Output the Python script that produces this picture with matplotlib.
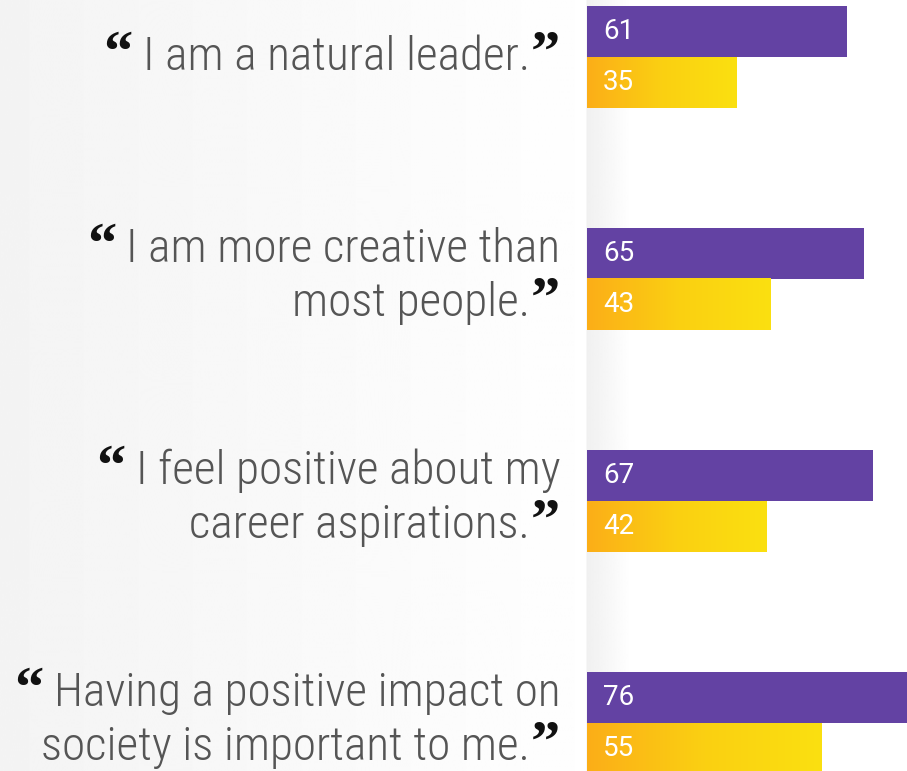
import numpy as np
import matplotlib.pyplot as plt
from matplotlib import font_manager
from matplotlib.colors import LinearSegmentedColormap

statements = [
    ["I am a natural leader."],
    ["I am more creative than", "most people."],
    ["I feel positive about my", "career aspirations."],
    ["Having a positive impact on", "society is important to me."],
]
purple_vals = [61, 65, 67, 76]
yellow_vals = [35, 43, 42, 55]

names = {f.name for f in font_manager.fontManager.ttflist}
font = next(f for f in ["Roboto Condensed", "Liberation Sans Narrow", "Roboto", "DejaVu Sans"] if f in names)
num_font = "Roboto" if "Roboto" in names else font

W, H = 907, 771
fig = plt.figure(figsize=(W / 100, H / 100), dpi=100)

# background: soft gray panel on the left, white panel on the right with a shadow
bg = fig.add_axes([0, 0, 1, 1])
bg.set_axis_off()
xs = np.linspace(0, 1, 900)
edge = 587 / W
shade = np.where(xs < edge, 0.955 + 0.042 * xs / edge,
                 1 - 0.06 * np.clip(1 - (xs - edge) / (45 / W), 0, 1))
bg.imshow(np.tile(shade, (2, 1)), cmap="gray", vmin=0, vmax=1, aspect="auto",
          extent=[0, 1, 0, 1], interpolation="bilinear")
bg.set_xlim(0, 1)
bg.set_ylim(0, 1)

# bar axes
ax = fig.add_axes([edge, 0, 1 - edge, 1])
ax.set_axis_off()
top = -57 / 222
bottom = (H - 57) / 222
bh = 51 / 222

yellow_cmap = LinearSegmentedColormap.from_list("y", ["#fcae18", "#fad012", "#fbe010"])
grad = np.linspace(0, 1, 256).reshape(1, -1)

for i in range(len(statements)):
    ax.barh(i - bh / 2, purple_vals[i], height=bh, color="#6342a3", linewidth=0)
    ax.imshow(grad, cmap=yellow_cmap, aspect="auto", interpolation="bilinear",
              extent=[0, yellow_vals[i], i + bh, i], zorder=2)
    ax.text(3.7, i - bh / 2, str(purple_vals[i]), color="white", fontsize=20,
            family=num_font, va="center", ha="left", zorder=3)
    ax.text(3.7, i + bh / 2, str(yellow_vals[i]), color="white", fontsize=20,
            family=num_font, va="center", ha="left", zorder=3)
ax.set_xlim(0, 75)
ax.set_ylim(bottom, top)

# statement labels with bold quote marks
fig.canvas.draw()
renderer = fig.canvas.get_renderer()
right = 560
qfont = dict(fontsize=42, color="#111111", fontweight="bold", family="Liberation Serif")
for i, lines in enumerate(statements):
    n = len(lines)
    yc = 57 + 222 * i
    if n == 1:
        bases = [yc + 13]
    else:
        bases = [yc - 17, yc + 37]
    cq = fig.text(right / W, 1 - (bases[-1] - 40) / H, "\u201d", ha="right", va="top", **qfont)
    cqw = cq.get_window_extent(renderer).width
    for k, line in enumerate(lines):
        xr = right - (cqw + 1 if k == n - 1 else 0)
        t = fig.text(xr / W, 1 - bases[k] / H, line, fontsize=34, color="#555555",
                     family=font, fontweight="light", ha="right", va="baseline")
        if k == 0:
            left = t.get_window_extent(renderer).x0
            fig.text((left - 10) / W, 1 - (bases[k] - 40) / H, "\u201c", ha="right",
                     va="top", **qfont)

fig.savefig("out.png", dpi=100)
